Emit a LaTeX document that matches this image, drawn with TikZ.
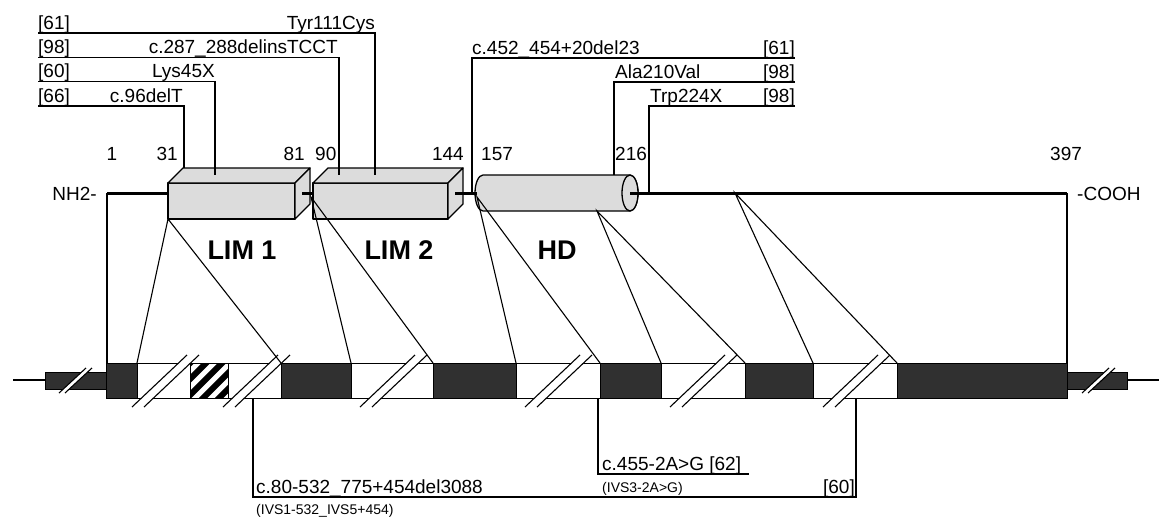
\documentclass[tikz,border=0pt]{standalone}
\usepackage{fontspec}
\setmainfont{Liberation Sans}
\definecolor{boxgray}{HTML}{DCDCDC}
\definecolor{exondark}{HTML}{303030}
\begin{document}
\begin{tikzpicture}[x=1pt,y=-1pt,
  lab/.style={font=\fontsize{19}{21}\selectfont, inner sep=0pt},
  sml/.style={font=\fontsize{14}{16}\selectfont, inner sep=0pt},
  dom/.style={font=\bfseries\fontsize{27}{30}\selectfont, inner sep=0pt, anchor=base},
  lead/.style={line width=1.2pt},
  conn/.style={line width=1.1pt},
  backbone/.style={line width=3pt},
  solidbox/.style={line width=1.3pt, fill=boxgray, line join=round},
  exonbox/.style={fill=exondark, draw=black, line width=1pt},
  brkline/.style={line width=1.1pt},
]
\fill[white] (0,0) rectangle (1159,517);
\useasboundingbox (0,0) rectangle (1159,517);

% ---------------- protein backbone ----------------
\coordinate (nEnd) at (107,193);
\coordinate (cEnd) at (1067,193);
\coordinate (L1in) at (168,193);
\coordinate (hdC) at (630,193);
\draw[backbone] (nEnd) -- (L1in);
\draw[backbone] (hdC) -- (cEnd);

% LIM 1 cuboid
\draw[solidbox] (168,183) rectangle (295,219);
\draw[solidbox] (168,183) -- (183,168) -- (310,168) -- (295,183) -- cycle;
\draw[solidbox] (295,183) -- (310,168) -- (310,204) -- (295,219) -- cycle;
% LIM 2 cuboid
\draw[solidbox] (313,183) rectangle (448,219);
\draw[solidbox] (313,183) -- (328,168) -- (463,168) -- (448,183) -- cycle;
\draw[solidbox] (448,183) -- (463,168) -- (463,204) -- (448,219) -- cycle;
% HD cylinder
\draw[solidbox] (483,175) -- (630,175)
   arc[start angle=90, end angle=-90, x radius=8pt, y radius=18pt]
   -- (483,211)
   arc[start angle=270, end angle=90, x radius=8pt, y radius=18pt] -- cycle;
\draw[solidbox] (hdC) ellipse[x radius=8pt, y radius=18pt];

% short backbone pieces between domains
\coordinate (L1out) at (302,193); \coordinate (L2in) at (313,193);
\coordinate (L2out) at (455,193); \coordinate (hdIn) at (477,193);
\draw[backbone] (L1out) -- (L2in);
\draw[backbone] (L2out) -- (hdIn);
\draw[backbone] (hdC) -- (640,193);

% ---------------- top callouts ----------------
\coordinate (a1) at (38,33);   \coordinate (a1k) at (375,33);   \coordinate (a1e) at (375,175);
\coordinate (a2) at (38,57.5); \coordinate (a2k) at (339,57.5); \coordinate (a2e) at (339,175);
\coordinate (a3) at (38,81.5); \coordinate (a3k) at (215,81.5); \coordinate (a3e) at (215,175);
\coordinate (a4) at (38,106);  \coordinate (a4k) at (184,106);  \coordinate (a4e) at (184,168);
\coordinate (b1) at (795,58);  \coordinate (b1k) at (472,58);   \coordinate (b1e) at (472,193);
\coordinate (b2) at (795,82);  \coordinate (b2k) at (614,82);   \coordinate (b2e) at (614,175);
\coordinate (b3) at (795,106); \coordinate (b3k) at (649,106);  \coordinate (b3e) at (649,193);
\draw[lead] (a1) -- (a1k) -- (a1e);
\draw[lead] (a2) -- (a2k) -- (a2e);
\draw[lead] (a3) -- (a3k) -- (a3e);
\draw[lead] (a4) -- (a4k) -- (a4e);
\draw[lead] (b1) -- (b1k) -- (b1e);
\draw[lead] (b2) -- (b2k) -- (b2e);
\draw[lead] (b3) -- (b3k) -- (b3e);

\node[lab, anchor=base west] (r1) at (38,29) {[61]};
\node[lab, anchor=base east] (m1) at (375,29) {Tyr111Cys};
\node[lab, anchor=base west] (r2) at (38,53.5) {[98]};
\node[lab, anchor=base east] (m2) at (338,53.5) {c.287\_288delinsTCCT};
\node[lab, anchor=base west] (r3) at (38,77.5) {[60]};
\node[lab, anchor=base east] (m3) at (215,77.5) {Lys45X};
\node[lab, anchor=base west] (r4) at (38,102) {[66]};
\node[lab, anchor=base east] (m4) at (183,102) {c.96delT};
\node[lab, anchor=base west] (m5) at (472,54) {c.452\_454+20del23};
\node[lab, anchor=base east] (r5) at (795,54) {[61]};
\node[lab, anchor=base west] (m6) at (615,78) {Ala210Val};
\node[lab, anchor=base east] (r6) at (795,78) {[98]};
\node[lab, anchor=base west] (m7) at (650,102) {Trp224X};
\node[lab, anchor=base east] (r7) at (795,102) {[98]};

% residue numbers
\node[lab, anchor=base] (n1) at (112,160) {1};
\node[lab, anchor=base east] (n31) at (178,160) {31};
\node[lab, anchor=base east] (n81) at (305,160) {81};
\node[lab, anchor=base west] (n90) at (315,160) {90};
\node[lab, anchor=base east] (n144) at (464,160) {144};
\node[lab, anchor=base west] (n157) at (481,160) {157};
\node[lab, anchor=base west] (n216) at (615,160) {216};
\node[lab, anchor=base west] (n397) at (1050,160) {397};

\node[lab, anchor=base east] (nh2) at (97,200) {NH2-};
\node[lab, anchor=base west] (cooh) at (1077,200) {-COOH};

\node[dom] (lim1) at (242,259) {LIM 1};
\node[dom] (lim2) at (399,259) {LIM 2};
\node[dom] (hd) at (557,259) {HD};

% ---------------- gene ----------------
\coordinate (lw0) at (13,380); \coordinate (lw1) at (45,380);
\coordinate (rw0) at (1127,380); \coordinate (rw1) at (1159,380);
\draw[conn] (lw0) -- (lw1);
\draw[conn] (rw0) -- (rw1);
\draw[exonbox] (45,372) rectangle (106,389);
\draw[exonbox] (1067,372) rectangle (1127,389);
\draw[line width=1pt, fill=white] (106,363) rectangle (1067,398);
\foreach \a/\b in {106/137, 281/351, 433/516, 600/661, 745/813, 897/1067}
  \draw[exonbox] (\a,363) rectangle (\b,398);
% hatched region
\begin{scope}
  \clip (190,363) rectangle (228,398);
  \foreach \k in {0,...,6}
    \draw[line width=6pt] (150+\k*16,403) -- (195+\k*16,358);
\end{scope}
\draw[line width=1pt] (190,363) rectangle (228,398);

% break marks in introns
\foreach \x in {132,223,360,525,670,823} {
  \fill[white] (\x,407) -- (\x+55,355) -- (\x+67,355) -- (\x+12,407) -- cycle;
  \draw[brkline] (\x,407) -- (\x+55,355);
  \draw[brkline] (\x+12,407) -- (\x+67,355);
}
% break marks in UTR boxes
\foreach \x in {59,1082} {
  \fill[white] (\x,393) -- (\x+27,368) -- (\x+33,368) -- (\x+6,393) -- cycle;
  \draw[brkline] (\x,393) -- (\x+27,368);
  \draw[brkline] (\x+6,393) -- (\x+33,368);
}

% ---------------- protein-to-gene connectors ----------------
\coordinate (gL) at (107,363); \coordinate (gR) at (1067,363);
\draw[conn] (nEnd) -- (gL);
\draw[conn] (cEnd) -- (gR);
\coordinate (p1) at (168,219); \coordinate (i1a) at (137,363); \coordinate (i1b) at (281,363);
\coordinate (p2) at (311,197); \coordinate (i2a) at (351,363); \coordinate (i2b) at (433,363);
\coordinate (p3) at (477,197); \coordinate (i3a) at (516,363); \coordinate (i3b) at (600,363);
\coordinate (p4) at (597,211); \coordinate (i4a) at (661,363); \coordinate (i4b) at (745,363);
\coordinate (p5) at (735,193); \coordinate (i5a) at (813,363); \coordinate (i5b) at (897,363);
\foreach \p/\u/\v in {p1/i1a/i1b, p2/i2a/i2b, p3/i3a/i3b, p4/i4a/i4b, p5/i5a/i5b} {
  \draw[conn] (\u) -- (\p) -- (\v);
}

% ---------------- bottom callouts ----------------
\coordinate (d1a) at (253,398); \coordinate (d1b) at (253,497);
\coordinate (d1c) at (856,497); \coordinate (d1d) at (856,398);
\draw[lead] (d1a) -- (d1b) -- (d1c) -- (d1d);
\coordinate (s1a) at (598,398); \coordinate (s1b) at (598,474); \coordinate (s1c) at (749,474);
\draw[lead] (s1a) -- (s1b) -- (s1c);

\node[lab, anchor=base west] (del) at (256,493) {c.80-532\_775+454del3088};
\node[lab, anchor=base east] (r60) at (855,493) {[60]};
\node[sml, anchor=base west] (ivs1) at (256,514) {(IVS1-532\_IVS5+454)};
\node[lab, anchor=base west] (spl) at (602,470) {c.455-2A>G [62]};
\node[sml, anchor=base west] (ivs3) at (602,492) {(IVS3-2A>G)};
\end{tikzpicture}
\end{document}
